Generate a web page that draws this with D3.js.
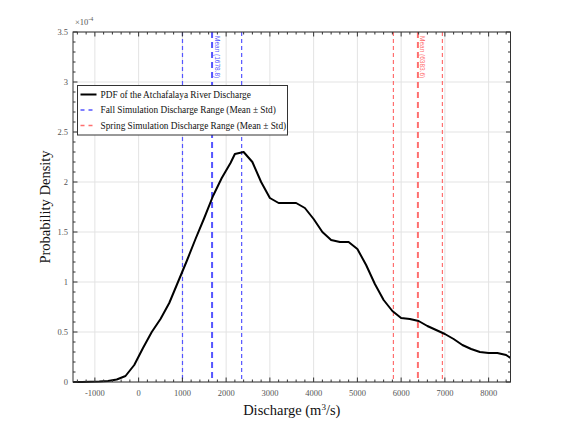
<!DOCTYPE html>
<html>
<head>
<meta charset="utf-8">
<script src="https://cdn.jsdelivr.net/npm/d3@7"></script>
<style>
body { margin:0; background:#fff; }
svg { font-family: 'Liberation Serif', 'DejaVu Serif', serif; }
</style>
</head>
<body>
<div id="chart"></div>
<script>
// discharge grid (m3/s) and PDF values (x 1e-4)
var discharge = [-1500,-1300,-1100,-900,-700,-500,-300,-100,100,300,500,700,900,1100,1300,1500,1700,1900,2100,2200,2400,2600,2800,3000,3200,3400,3600,3800,4000,4200,4400,4600,4800,5000,5200,5400,5600,5800,6000,6200,6400,6600,6800,7000,7200,7400,7600,7800,8000,8200,8400,8500]
var density = [0,0,0.002,0.005,0.01,0.025,0.06,0.17,0.34,0.50,0.63,0.79,1.00,1.21,1.43,1.64,1.86,2.04,2.19,2.28,2.30,2.20,2.00,1.84,1.79,1.79,1.79,1.74,1.63,1.50,1.42,1.40,1.40,1.33,1.17,0.98,0.82,0.71,0.64,0.63,0.61,0.56,0.52,0.48,0.43,0.37,0.33,0.30,0.29,0.29,0.27,0.24]

var fall   = {mean:1678.8, std:676}
var spring = {mean:6383.6, std:560}

var xTicks = [-1000,0,1000,2000,3000,4000,5000,6000,7000,8000]
var yTicks = [0,0.5,1,1.5,2,2.5,3,3.5]
var legendLabels = ['PDF of the Atchafalaya River Discharge',
                    'Fall Simulation Discharge Range (Mean \u00b1 Std)',
                    'Spring Simulation Discharge Range (Mean \u00b1 Std)']

var W = 564, H = 430
var pL = 73, pR = 510.5, pT = 32, pB = 382

var x = d3.scaleLinear().domain([-1500,8500]).range([pL,pR])
var y = d3.scaleLinear().domain([0,3.5]).range([pB,pT])

var svg = d3.select('#chart').append('svg')
	.attr('width', W).attr('height', H)

// grid
var grid = svg.append('g').attr('stroke','#e3e3e3').attr('stroke-width',1)
xTicks.forEach(t=>{
	grid.append('line').attr('x1',x(t)).attr('x2',x(t)).attr('y1',pT).attr('y2',pB)
})
yTicks.forEach(t=>{
	grid.append('line').attr('x1',pL).attr('x2',pR).attr('y1',y(t)).attr('y2',y(t))
})

// range lines
var blue = '#5555ff', red = '#ff6f6f'
function rangeLines(r, col, label){
	var g = svg.append('g').attr('stroke',col).attr('fill','none')
	;[r.mean - r.std, r.mean + r.std].forEach(v=>{
		g.append('line').attr('x1',x(v)).attr('x2',x(v)).attr('y1',pT).attr('y2',pB)
		 .attr('stroke-width',1.2).attr('stroke-dasharray','4,3')
	})
	g.append('line').attr('x1',x(r.mean)).attr('x2',x(r.mean)).attr('y1',pT).attr('y2',pB)
	 .attr('stroke-width',2).attr('stroke-dasharray','6,4')
	svg.append('text')
		.attr('transform','translate(' + (x(r.mean)+2.5) + ',' + (pT+4) + ') rotate(90)')
		.attr('font-family','Liberation Sans, Arial, sans-serif')
		.attr('font-size',6.5).attr('fill',col)
		.text(label + ' (' + r.mean.toFixed(1) + ')')
}
rangeLines(fall, blue, 'Mean')
rangeLines(spring, red, 'Mean')

// pdf curve
var line = d3.line().x((d,i)=>x(discharge[i])).y(d=>y(d))
svg.append('path').datum(density)
	.attr('d',line).attr('fill','none')
	.attr('stroke','#000').attr('stroke-width',2).attr('stroke-linejoin','round')

// axes box and ticks (inward)
var axisCol = '#333'
var ax = svg.append('g').attr('stroke',axisCol).attr('stroke-width',1)
ax.append('rect').attr('x',pL).attr('y',pT).attr('width',pR-pL).attr('height',pB-pT)
	.attr('fill','none')
d3.range(-1400,8500,200).forEach(v=>{
	var major = v % 1000 === 0
	var l = major ? 4.5 : 2.5
	ax.append('line').attr('x1',x(v)).attr('x2',x(v)).attr('y1',pB).attr('y2',pB-l)
	ax.append('line').attr('x1',x(v)).attr('x2',x(v)).attr('y1',pT).attr('y2',pT+l)
})
d3.range(0,36).forEach(k=>{
	var v = k/10
	var major = k % 5 === 0
	var l = major ? 4.5 : 2.5
	ax.append('line').attr('x1',pL).attr('x2',pL+l).attr('y1',y(v)).attr('y2',y(v))
	ax.append('line').attr('x1',pR).attr('x2',pR-l).attr('y1',y(v)).attr('y2',y(v))
})

// tick labels
var tickCol = '#555'
svg.append('g').selectAll('text').data(xTicks).join('text')
	.attr('x',d=>x(d)).attr('y',pB+14)
	.attr('text-anchor','middle').attr('font-size',8.5).attr('fill',tickCol)
	.text(d=>d)
svg.append('g').selectAll('text').data(yTicks).join('text')
	.attr('x',pL-5).attr('y',d=>y(d)+3)
	.attr('text-anchor','end').attr('font-size',8.5).attr('fill',tickCol)
	.text(d=>d)
var ex = svg.append('text').attr('x',pL+2).attr('y',pT-7)
	.attr('font-size',8.5).attr('fill',tickCol)
ex.append('tspan').text('\u00d710')
ex.append('tspan').attr('dy',-4).attr('font-size',6).text('-4')

// axis titles
var xl = svg.append('text').attr('x',(pL+pR)/2).attr('y',415)
	.attr('text-anchor','middle').attr('font-size',14.5).attr('fill','#111')
xl.append('tspan').text('Discharge (m')
xl.append('tspan').attr('dy',-5).attr('font-size',9).text('3')
xl.append('tspan').attr('dy',5).text('/s)')
svg.append('text')
	.attr('transform','translate(50,' + ((pT+pB)/2) + ') rotate(-90)')
	.attr('text-anchor','middle').attr('font-size',14.5).attr('fill','#111')
	.text('Probability Density')

// legend
var lg = svg.append('g').attr('transform','translate(77.5,85.5)')
lg.append('rect').attr('width',210).attr('height',49.5)
	.attr('fill','#fff').attr('stroke','#333').attr('stroke-width',1)
var styles = [
	{col:'#000', w:2, dash:null},
	{col:blue, w:1.5, dash:'4,4'},
	{col:red, w:1.5, dash:'4,4'}
]
legendLabels.forEach((t,i)=>{
	var yy = 9 + i*15.5
	lg.append('line').attr('x1',3).attr('x2',19).attr('y1',yy).attr('y2',yy)
		.attr('stroke',styles[i].col).attr('stroke-width',styles[i].w)
		.attr('stroke-dasharray',styles[i].dash)
	lg.append('text').attr('x',23).attr('y',yy+3)
		.attr('font-size',9.3).attr('fill','#111').text(t)
})
</script>
</body>
</html>
